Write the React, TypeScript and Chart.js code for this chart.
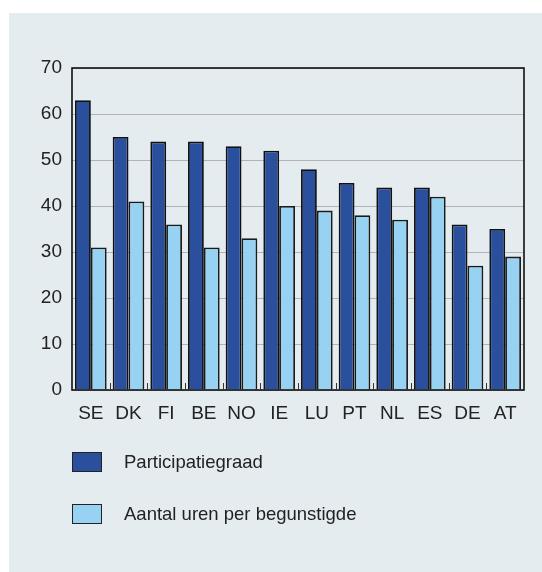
import React, { useEffect, useRef } from "react";
import { Chart, registerables } from "chart.js";

Chart.register(...registerables);

const categories = ["SE", "DK", "FI", "BE", "NO", "IE", "LU", "PT", "NL", "ES", "DE", "AT"];
const participatiegraad = [63, 55, 54, 54, 53, 52, 48, 45, 44, 44, 36, 35];
const urenPerBegunstigde = [31, 41, 36, 31, 33, 40, 39, 38, 37, 42, 27, 29];
const seriesLabels = ["Participatiegraad", "Aantal uren per begunstigde"];
const seriesColors = ["#2a4f9d", "#97d2f3"];

const FONT = "'Liberation Sans', Arial, sans-serif";

const framePlugin = {
  id: "frame",
  afterDraw(chart: any) {
    const { ctx, chartArea } = chart;
    const xs = chart.scales.x;
    ctx.save();
    ctx.strokeStyle = "#111";
    ctx.lineWidth = 1.6;
    ctx.strokeRect(chartArea.left, chartArea.top, chartArea.right - chartArea.left, chartArea.bottom - chartArea.top);
    ctx.lineWidth = 1;
    ctx.strokeStyle = "#333";
    for (let i = 1; i < categories.length; i++) {
      const x = Math.round((xs.getPixelForValue(i - 1) + xs.getPixelForValue(i)) / 2) + 0.5;
      ctx.beginPath();
      ctx.moveTo(x, chartArea.bottom);
      ctx.lineTo(x, chartArea.bottom - 7);
      ctx.stroke();
    }
    ctx.restore();
  },
};

export default function App() {
  const ref = useRef<HTMLCanvasElement>(null);
  useEffect(() => {
    if (!ref.current) return;
    const chart = new Chart(ref.current, {
      type: "bar",
      data: {
        labels: categories,
        datasets: [
          {
            label: seriesLabels[0],
            data: participatiegraad,
            backgroundColor: seriesColors[0],
            borderColor: "#111",
            borderWidth: 1.8,
            barPercentage: 1,
            categoryPercentage: 0.84,
          },
          {
            label: seriesLabels[1],
            data: urenPerBegunstigde,
            backgroundColor: seriesColors[1],
            borderColor: "#1a1a1a",
            borderWidth: 1.8,
            barPercentage: 1,
            categoryPercentage: 0.84,
          },
        ],
      },
      options: {
        responsive: false,
        animation: false,
        layout: { padding: { left: 0, top: 68, right: 18, bottom: 142 } },
        plugins: { legend: { display: false }, tooltip: { enabled: false } },
        scales: {
          x: {
            grid: { display: false },
            border: { display: false },
            ticks: { color: "#222", font: { family: FONT, size: 19 }, padding: 4, maxRotation: 0, autoSkip: false },
            afterFit: (s: any) => { s.height = 40; },
          },
          y: {
            min: 0,
            max: 70,
            ticks: { stepSize: 10, color: "#222", font: { family: FONT, size: 19 }, padding: 10 },
            grid: { color: "#b3b3b3", lineWidth: 1, drawTicks: false },
            border: { display: false },
            afterFit: (s: any) => { s.width = 72; },
          },
        },
      },
      plugins: [framePlugin],
    });
    return () => chart.destroy();
  }, []);

  return (
    <div style={{ position: "absolute", left: 0, top: 0, width: 542, height: 572, background: "#fff", overflow: "hidden" }}>
      <div style={{ position: "absolute", left: 9, top: 13, width: 533, height: 559, background: "#e4ecf0" }} />
      <canvas ref={ref} width={542} height={572} style={{ position: "absolute", left: 0, top: 0 }} />
      {seriesLabels.map((lab, i) => (
        <div key={lab} style={{ position: "absolute", left: 72, top: 452 + i * 52, height: 20, display: "flex", alignItems: "center" }}>
          <div style={{ width: 28, height: 18, background: seriesColors[i], border: "1.5px solid #222" }} />
          <span style={{ marginLeft: 22, fontFamily: FONT, fontSize: 18.5, color: "#222", whiteSpace: "nowrap" }}>{lab}</span>
        </div>
      ))}
    </div>
  );
}
